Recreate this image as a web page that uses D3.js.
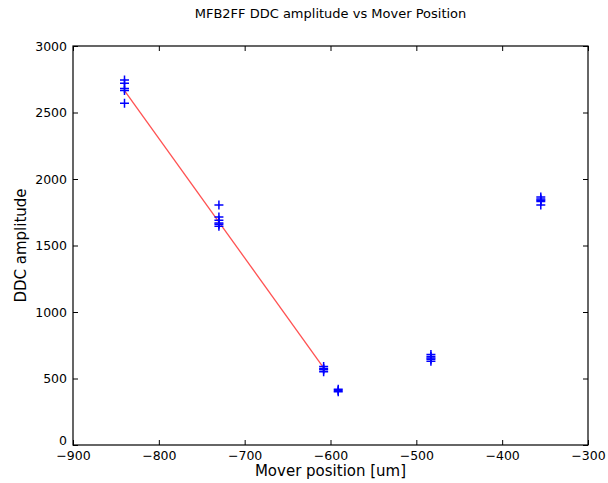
<!DOCTYPE html>
<html>
<head>
<meta charset="utf-8">
<script src="https://cdn.jsdelivr.net/npm/d3@7"></script>
<style>
  body { margin: 0; background: #fff; }
  text { font-family: "DejaVu Sans", sans-serif; fill: #000; }
</style>
</head>
<body>
<div id="chart"></div>
<script>
// measured points (mover position, DDC amplitude)
const moverPos = [
  -840, -840, -840, -840, -840,
  -730, -730, -730, -730, -730, -730,
  -608, -608, -608, -608,
  -591, -591, -591,
  -483, -483, -483, -483, -483,
  -355, -355, -355, -355, -355
];
const ddcAmp = [
  2745, 2720, 2680, 2665, 2570,
  1805, 1715, 1690, 1670, 1660, 1645,
  590, 575, 565, 550,
  420, 410, 400,
  680, 665, 655, 645, 630,
  1865, 1850, 1840, 1830, 1805
];

// linear fit (red line)
const fitX = [-840, -608];
const fitY = [2665, 580];

const xTicks = [-900, -800, -700, -600, -500, -400, -300];
const yTicks = [0, 500, 1000, 1500, 2000, 2500, 3000];

const width = 608;
const height = 483;
const mLeft = 73, mRight = 588, mTop = 46, mBottom = 445;

const svg = d3.select("#chart")
              .append("svg")
              .attr("width", width)
              .attr("height", height);

const xScale = d3.scaleLinear().domain([-900, -300]).range([mLeft, mRight]);
const yScale = d3.scaleLinear().domain([0, 3000]).range([mBottom, mTop]);

const fmt = d => d < 0 ? "\u2212" + Math.abs(d) : String(d);

// fit line
svg.append("path")
   .datum(fitX.map((x, i) => [x, fitY[i]]))
   .attr("d", d3.line().x(d => xScale(d[0])).y(d => yScale(d[1])))
   .attr("fill", "none")
   .attr("stroke", "#ff3333")
   .attr("stroke-opacity", 0.85)
   .attr("stroke-width", 1.3);

// + markers
const m = 4.5;
svg.append("g")
   .selectAll("path")
   .data(moverPos.map((x, i) => [x, ddcAmp[i]]))
   .join("path")
   .attr("d", d => {
     const px = xScale(d[0]), py = yScale(d[1]);
     return `M${px - m},${py}H${px + m}M${px},${py - m}V${py + m}`;
   })
   .attr("stroke", "#0000ff")
   .attr("stroke-width", 1.5)
   .attr("fill", "none");

// axes (ticks inward)
const xAxisB = d3.axisBottom(xScale).tickValues(xTicks).tickSizeInner(-5).tickSizeOuter(0).tickPadding(6).tickFormat(fmt);
const xAxisT = d3.axisTop(xScale).tickValues(xTicks).tickSizeInner(-5).tickSizeOuter(0).tickFormat("");
const yAxisL = d3.axisLeft(yScale).tickValues(yTicks).tickSizeInner(-5).tickSizeOuter(0).tickPadding(6).tickFormat(fmt);
const yAxisR = d3.axisRight(yScale).tickValues(yTicks).tickSizeInner(-5).tickSizeOuter(0).tickFormat("");

svg.append("g").attr("transform", `translate(0,${mBottom})`).call(xAxisB);
svg.append("g").attr("transform", `translate(0,${mTop})`).call(xAxisT);
const gL = svg.append("g").attr("transform", `translate(${mLeft},0)`).call(yAxisL);
svg.append("g").attr("transform", `translate(${mRight},0)`).call(yAxisR);

// the "0" label sits just above the x labels
gL.selectAll(".tick text").filter(d => d === 0).attr("dy", "-0.05em");

svg.selectAll(".domain").remove();
svg.selectAll(".tick line").attr("stroke", "#000").attr("stroke-width", 1);
svg.selectAll(".tick text").style("font-size", "12.5px").attr("fill", "#222");

// frame
svg.append("rect")
   .attr("x", mLeft).attr("y", mTop)
   .attr("width", mRight - mLeft).attr("height", mBottom - mTop)
   .attr("fill", "none")
   .attr("stroke", "#000")
   .attr("stroke-width", 1.2);

// titles
svg.append("text")
   .attr("x", (mLeft + mRight) / 2).attr("y", 18)
   .attr("text-anchor", "middle")
   .style("font-size", "13px")
   .attr("fill", "#222")
   .text("MFB2FF DDC amplitude vs Mover Position");

svg.append("text")
   .attr("x", (mLeft + mRight) / 2).attr("y", 476)
   .attr("text-anchor", "middle")
   .style("font-size", "15px")
   .attr("fill", "#222")
   .text("Mover position [um]");

svg.append("text")
   .attr("transform", `translate(26,${(mTop + mBottom) / 2}) rotate(-90)`)
   .attr("text-anchor", "middle")
   .style("font-size", "15px")
   .attr("fill", "#222")
   .text("DDC amplitude");
</script>
</body>
</html>
